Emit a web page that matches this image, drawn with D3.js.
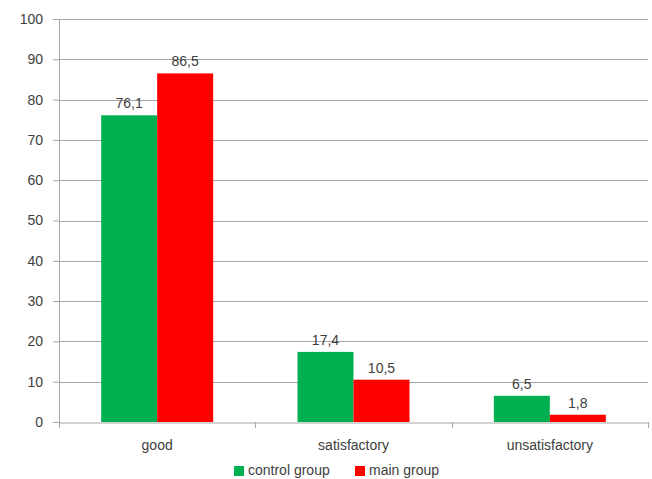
<!DOCTYPE html>
<html>
<head>
<meta charset="utf-8">
<script src="https://cdn.jsdelivr.net/npm/d3@7"></script>
<style>
  html, body { margin: 0; padding: 0; background: #fff; }
  svg { display: block; font-family: "Liberation Sans", Arial, sans-serif; }
</style>
</head>
<body>
<svg id="chart" width="652" height="479"></svg>
<script>
// Ratings by group, percent
const categories = ["good", "satisfactory", "unsatisfactory"];
const seriesNames = ["control group", "main group"];
const controlGroup = [76.1, 17.4, 6.5];
const mainGroup = [86.5, 10.5, 1.8];
const yTicks = [0, 10, 20, 30, 40, 50, 60, 70, 80, 90, 100];
const colors = ["#00B050", "#FF0000"];

const series = [controlGroup, mainGroup];
const fmt = v => String(v).replace(".", ",");

const svg = d3.select("#chart");
const plotLeft = 59, plotRight = 648, plotTop = 19, plotBottom = 422;
const fontSize = 14;

const y = d3.scaleLinear().domain([0, 100]).range([plotBottom, plotTop]);
const x = d3.scaleBand().domain(categories).range([plotLeft, plotRight]).paddingInner(0).paddingOuter(0);
const inner = d3.scaleBand().domain(seriesNames).range([0, x.bandwidth()]).paddingInner(0).paddingOuter(0.753);

const textColor = "#404040";
const gridColor = "#a6a6a6";

// tick labels with left tick stubs
const yAxis = svg.append("g")
  .attr("transform", `translate(${plotLeft},0)`)
  .call(d3.axisLeft(y).tickValues(yTicks).tickSize(6).tickPadding(10).tickFormat(d => d));
yAxis.select(".domain").remove();
yAxis.selectAll(".tick line").attr("stroke", gridColor);
yAxis.selectAll(".tick text").attr("fill", textColor).attr("font-size", fontSize);

// horizontal gridlines
svg.append("g").selectAll("line")
  .data(yTicks.filter(d => d > 0))
  .join("line")
  .attr("x1", plotLeft).attr("x2", plotRight)
  .attr("y1", d => Math.round(y(d)) + 0.5).attr("y2", d => Math.round(y(d)) + 0.5)
  .attr("stroke", gridColor);

// bars
const groups = svg.append("g").selectAll("g")
  .data(categories)
  .join("g")
  .attr("transform", d => `translate(${x(d)},0)`);

const rows = (c, i) => seriesNames.map((s, j) => ({ s, v: series[j][i], j }));

groups.selectAll("rect")
  .data(rows)
  .join("rect")
  .attr("x", d => inner(d.s))
  .attr("width", inner.bandwidth())
  .attr("y", d => y(d.v))
  .attr("height", d => y(0) - y(d.v))
  .attr("fill", d => colors[d.j]);

groups.selectAll("text")
  .data(rows)
  .join("text")
  .attr("x", d => inner(d.s) + inner.bandwidth() / 2)
  .attr("y", d => y(d.v) - 7)
  .attr("text-anchor", "middle")
  .attr("font-size", fontSize)
  .attr("fill", textColor)
  .text(d => fmt(d.v));

// vertical axis line
svg.append("line")
  .attr("x1", plotLeft + 0.5).attr("x2", plotLeft + 0.5)
  .attr("y1", plotTop).attr("y2", plotBottom)
  .attr("stroke", gridColor);

// category axis
const xAxis = svg.append("g")
  .attr("transform", `translate(0,${plotBottom + 0.5})`)
  .call(d3.axisBottom(x).tickSize(0).tickPadding(18));
xAxis.select(".domain").attr("stroke", gridColor);
xAxis.selectAll(".tick text").attr("fill", textColor).attr("font-size", fontSize);

// category boundary ticks
svg.append("g").selectAll("line")
  .data(d3.range(categories.length + 1))
  .join("line")
  .attr("x1", i => Math.round(plotLeft + i * x.bandwidth()) + 0.5)
  .attr("x2", i => Math.round(plotLeft + i * x.bandwidth()) + 0.5)
  .attr("y1", plotBottom).attr("y2", plotBottom + 6)
  .attr("stroke", gridColor);

// legend
const legend = svg.append("g").attr("transform", "translate(234,475)");
const legendItems = legend.selectAll("g")
  .data(seriesNames)
  .join("g")
  .attr("transform", (d, i) => `translate(${i * 121},0)`);
legendItems.append("rect")
  .attr("x", 0).attr("y", -9).attr("width", 10).attr("height", 10)
  .attr("fill", (d, i) => colors[i]);
legendItems.append("text")
  .attr("x", 14).attr("y", 0)
  .attr("font-size", fontSize)
  .attr("fill", textColor)
  .text(d => d);
</script>
</body>
</html>
